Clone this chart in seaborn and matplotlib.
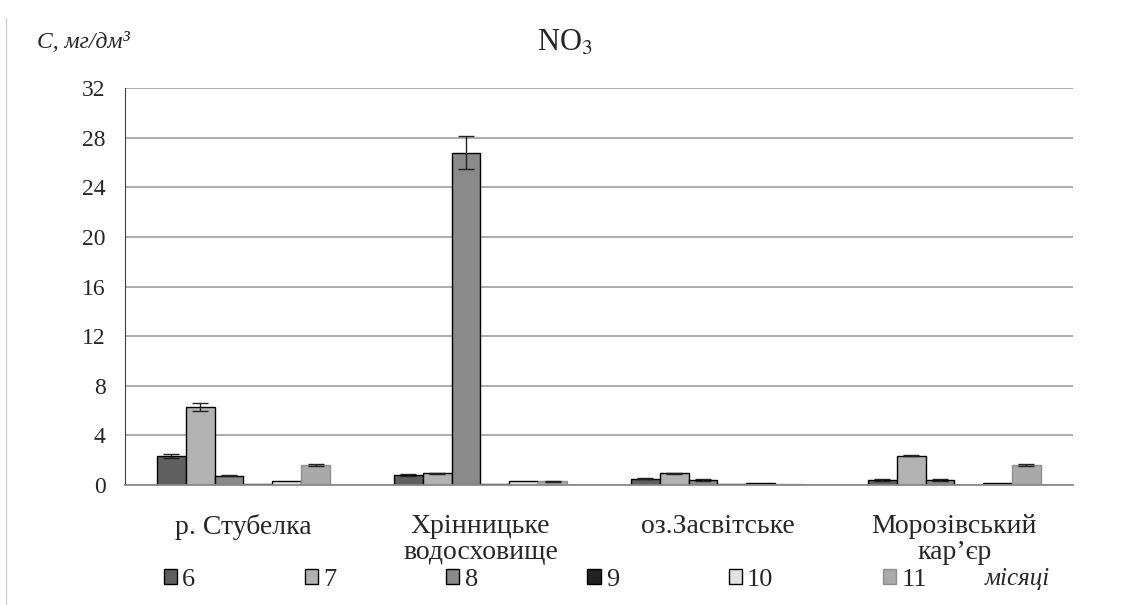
import numpy as np
import pandas as pd
import matplotlib
matplotlib.use("Agg")
import matplotlib.pyplot as plt
import seaborn as sns

# data
sites = ["р. Стубелка", "Хрінницьке\nводосховище", "оз.Засвітське", "Морозівський\nкар’єр"]
months = ["6", "7", "8", "9", "10", "11"]

no3_m6 = [2.35, 0.80, 0.50, 0.40]
no3_m7 = [6.30, 0.95, 0.95, 2.35]
no3_m8 = [0.75, 26.80, 0.40, 0.40]
no3_m9 = [0.05, 0.05, 0.05, np.nan]
no3_m10 = [0.35, 0.30, 0.15, 0.20]
no3_m11 = [1.60, 0.30, 0.08, 1.60]

err_m6 = [0.15, 0.05, 0.05, 0.05]
err_m7 = [0.30, 0.03, 0.03, 0.05]
err_m8 = [0.03, 1.35, 0.05, 0.05]
err_m9 = [0.0, 0.0, 0.0, 0.0]
err_m10 = [0.0, 0.0, 0.0, 0.0]
err_m11 = [0.08, 0.03, 0.0, 0.08]

colors = ["#5f5f5f", "#b2b2b2", "#8a8a8a", "#222222", "#e2e2e2", "#a9a9a9"]
edges = ["#000000", "#000000", "#000000", "#000000", "#000000", "#8f8f8f"]

values = [no3_m6, no3_m7, no3_m8, no3_m9, no3_m10, no3_m11]
errors = [err_m6, err_m7, err_m8, err_m9, err_m10, err_m11]

rows = []
for m, vals, errs in zip(months, values, errors):
    for s, v, e in zip(sites, vals, errs):
        rows.append({"site": s, "month": m, "value": v, "err": e})
df = pd.DataFrame(rows)

sns.set_style("white")
plt.rcParams["font.family"] = ["Liberation Serif", "DejaVu Serif"]

fig = plt.figure(figsize=(11.29, 6.05), dpi=100)
ax = fig.add_axes([0.1107, 0.1983, 0.8396, 0.6562])

sns.barplot(data=df, x="site", y="value", hue="month", order=sites,
            hue_order=months, palette=colors, width=0.73, errorbar=None,
            ax=ax, legend=False, saturation=1)

# edges and error bars, bar by bar
for k, (m, cont) in enumerate(zip(months, ax.containers)):
    sub = df[df["month"] == m].dropna(subset=["value"])
    for bar, (_, r) in zip(cont, sub.iterrows()):
        bar.set_edgecolor(edges[k])
        bar.set_linewidth(1.0)
        if r["err"] > 0:
            xc = bar.get_x() + bar.get_width() / 2
            ax.errorbar(xc, r["value"], yerr=r["err"], fmt="none",
                        ecolor="#222222", elinewidth=1.0, capsize=6, capthick=1.0)

ax.set_ylim(0, 32)
ax.set_xlim(-0.5, 3.5)
ax.set_yticks(np.arange(0, 33, 4))
ax.yaxis.grid(True, color="#a6a6a6", linewidth=1.3)
ax.set_axisbelow(True)
ax.tick_params(axis="y", length=0, labelsize=17, pad=14)
ax.tick_params(axis="x", length=0, labelsize=20, pad=21)
ax.set_xlabel("")
ax.set_ylabel("")
for lbl in ax.get_xticklabels():
    lbl.set_linespacing(1.05)
for side in ["top", "right"]:
    ax.spines[side].set_visible(False)
ax.spines["left"].set_color("#404040")
ax.spines["bottom"].set_color("#8a8a8a")
ax.spines["bottom"].set_linewidth(1.3)

fig.text(0.5005, 0.928, "NO$_3$", ha="center", va="center", fontsize=22,
         math_fontfamily="stix")
fig.text(0.033, 0.93, "C, мг/дм³", ha="left", va="center", fontsize=17,
         style="italic")

handles = [plt.Rectangle((0, 0), 1, 1, facecolor=c, edgecolor=e, linewidth=1.0)
           for c, e in zip(colors, edges)]
fig.legend(handles, months, loc="center left", bbox_to_anchor=(0.124, 0.041),
           ncol=6, frameon=False, fontsize=19, handlelength=0.5,
           handleheight=0.5, handletextpad=0.2, columnspacing=4.15)
fig.text(0.872, 0.043, "місяці", ha="left", va="center", fontsize=18,
         style="italic")

# thin frame line at the left edge of the figure
fig.add_artist(plt.Line2D([0.005, 0.005], [0.0, 0.97], color="#d0d0d0",
                          linewidth=1.0, transform=fig.transFigure))

fig.savefig("out.png", dpi=100)
